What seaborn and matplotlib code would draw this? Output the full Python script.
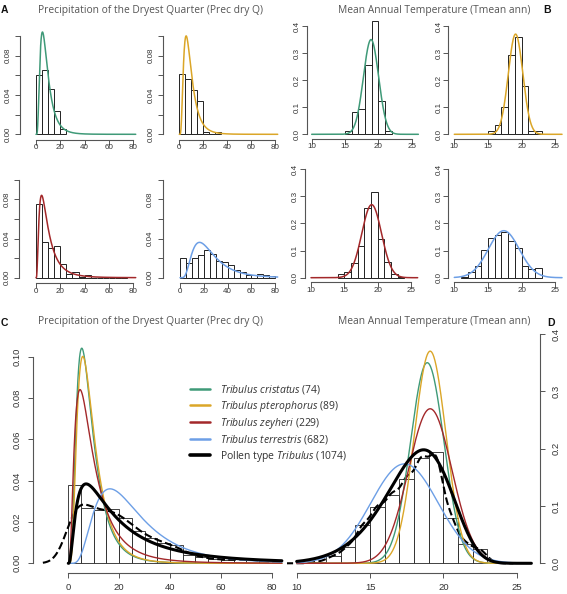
import numpy as np
import matplotlib
matplotlib.use("Agg")
import matplotlib.pyplot as plt
import seaborn as sns

# ---------------- values ----------------
species_labels = [r"$\mathit{Tribulus\ cristatus}$ (74)",
                  r"$\mathit{Tribulus\ pterophorus}$ (89)",
                  r"$\mathit{Tribulus\ zeyheri}$ (229)",
                  r"$\mathit{Tribulus\ terrestris}$ (682)"]
pollen_label = r"Pollen type $\mathit{Tribulus}$ (1074)"
species_colors = ["#3f9a78", "#dba628", "#a3282a", "#6d9fe6"]

# precipitation histograms (density), bins of 5 starting at 0
prec_hist_cristatus = [0.060, 0.065, 0.046, 0.024, 0.005]
prec_hist_pterophorus = [0.0614, 0.0563, 0.0451, 0.0339, 0.0024, 0.0, 0.0024]
prec_hist_zeyheri = [0.0750, 0.0360, 0.0300, 0.0323, 0.0138, 0.0035, 0.0060,
                     0.0009, 0.0026, 0.0, 0.0, 0.0, 0.0, 0.0, 0.0009]
prec_hist_terrestris = [0.0197, 0.0146, 0.0197, 0.0231, 0.0282, 0.0238, 0.0170, 0.0163,
                        0.0129, 0.0078, 0.0054, 0.0027, 0.0027, 0.0034, 0.0027, 0.0017]
prec_hist_pollen = [0.0380, 0.0267, 0.0257, 0.0262, 0.0218, 0.0157, 0.0123, 0.0100,
                    0.0087, 0.0040, 0.0029, 0.0019, 0.0016, 0.0019, 0.0019, 0.0010]

# temperature histograms (density), bins of 1 starting at temp_start
temp_start = [15, 15, 14, 11]
temp_hist_cristatus = [0.0135, 0.0811, 0.0946, 0.2568, 0.4189, 0.1216, 0.0135]
temp_hist_pterophorus = [0.0112, 0.0337, 0.1011, 0.2921, 0.3596, 0.1798, 0.0112, 0.0112]
temp_hist_zeyheri = [0.0123, 0.0209, 0.0529, 0.1180, 0.2560, 0.3175, 0.1415, 0.0566, 0.0123, 0.0040]
temp_hist_terrestris = [0.0037, 0.0197, 0.0443, 0.1020, 0.1450, 0.1560, 0.1700, 0.1366,
                        0.1095, 0.0431, 0.0320, 0.0345]
pollen_temp_start = 11
temp_hist_pollen = [0.0025, 0.0125, 0.0280, 0.0668, 0.0988, 0.1190, 0.1465, 0.1830,
                    0.1947, 0.0785, 0.0337, 0.0255]

# fitted curves (parameters estimated from the drawn curves)
prec_logmean = [2.031, 2.086, 2.116, 3.125]
prec_logsd = [0.603, 0.588, 0.768, 0.573]
pollen_prec_logmean, pollen_prec_logsd = 2.843, 0.947
temp_mean = [18.9, 19.1, 19.1, 17.35]
temp_sd = [1.14, 1.078, 1.48, 2.30]
pollen_temp_shape, pollen_temp_scale, pollen_temp_peak = 9.0, 18.9, 0.198

prec_hists = [prec_hist_cristatus, prec_hist_pterophorus, prec_hist_zeyheri, prec_hist_terrestris]
temp_hists = [temp_hist_cristatus, temp_hist_pterophorus, temp_hist_zeyheri, temp_hist_terrestris]

# ---------------- helpers ----------------
sns.set_style("white")
plt.rcParams["font.family"] = ["Liberation Sans", "DejaVu Sans"]
plt.rcParams["mathtext.fontset"] = "custom"
plt.rcParams["mathtext.rm"] = "Open Sans"
plt.rcParams["mathtext.it"] = "Open Sans:italic"

W, H = 567, 594
fig = plt.figure(figsize=(W / 100, H / 100), dpi=100)
AX_COL = "#555555"
TXT_COL = "#333333"


def lognorm_pdf(x, mu, s):
    out = np.zeros_like(x)
    pos = x > 0
    out[pos] = np.exp(-(np.log(x[pos]) - mu) ** 2 / (2 * s * s)) / (x[pos] * s * np.sqrt(2 * np.pi))
    return out


def norm_pdf(x, m, s):
    return np.exp(-(x - m) ** 2 / (2 * s * s)) / (s * np.sqrt(2 * np.pi))


def place(rect, xmap, ymap):
    left, top, right, bottom = rect
    ax = fig.add_axes([left / W, 1 - bottom / H, (right - left) / W, (bottom - top) / H])
    ax.set_facecolor("none")
    (p0, v0), (p1, v1) = xmap
    fx = lambda p: v0 + (p - p0) * (v1 - v0) / (p1 - p0)
    (q0, w0), (q1, w1) = ymap
    fy = lambda q: w0 + (q - q0) * (w1 - w0) / (q1 - q0)
    ax._lims = ((fx(left), fx(right)), (fy(bottom), fy(top)))
    return ax


def hist(ax, start, width, heights, lw=0.7):
    n = len(heights)
    centers = start + width * (np.arange(n) + 0.5)
    sns.histplot(x=centers, weights=list(heights), binwidth=width,
                 binrange=(start, start + width * n), stat="count", ax=ax,
                 color="white", edgecolor="#222222", linewidth=lw, alpha=1)


def finish(ax, xticks, yticks, ylabels, fs, xpad, ypad, right=False):
    ax.set_xlim(*ax._lims[0])
    ax.set_ylim(*ax._lims[1])
    ax.set_xlabel("")
    ax.set_ylabel("")
    for side in ["top", "right", "left", "bottom"]:
        ax.spines[side].set_visible(False)
    yside = "right" if right else "left"
    ax.spines["bottom"].set_visible(True)
    ax.spines[yside].set_visible(True)
    ax.spines["bottom"].set_bounds(xticks[0], xticks[-1])
    ax.spines[yside].set_bounds(yticks[0], yticks[-1])
    for side in ["bottom", yside]:
        ax.spines[side].set_color(AX_COL)
        ax.spines[side].set_linewidth(0.8)
    ax.set_xticks(xticks)
    ax.set_xticklabels([str(t) for t in xticks])
    ax.set_yticks(yticks)
    ax.set_yticklabels(ylabels)
    if right:
        ax.yaxis.tick_right()
    ax.tick_params(axis="x", bottom=True, top=False)
    ax.tick_params(axis="y", left=not right, right=right,
                   labelleft=not right, labelright=right)
    ax.tick_params(axis="both", direction="out", length=3.3, width=0.7, color=AX_COL,
                   labelsize=fs, labelcolor=TXT_COL)
    ax.tick_params(axis="x", pad=xpad)
    ax.tick_params(axis="y", pad=ypad, labelrotation=90)
    for lab in ax.get_yticklabels():
        lab.set_va("center")


def ftext(x, y, s, **kw):
    fig.text(x / W, 1 - y / H, s, **kw)


# ---------------- top precipitation panels ----------------
prec_rects = [(20, 28.2, 140.2, 139.5), (163.3, 28.2, 282.1, 139.5),
              (19.3, 171.9, 140.2, 283.3), (162.7, 171.9, 282.0, 283.3)]
prec_xmaps = [((36, 0), (133.3, 80)), ((179.3, 0), (275.3, 80)),
              ((36, 0), (133.3, 80)), ((180, 0), (275.3, 80))]
prec_ymaps = [((134.3, 0), (55.7, 0.08)), ((134.3, 0), (55.7, 0.08)),
              ((277.7, 0), (199.3, 0.08)), ((277.7, 0), (199.3, 0.08))]
xg_prec = np.linspace(0, 82, 600)
for i in range(4):
    ax = place(prec_rects[i], prec_xmaps[i], prec_ymaps[i])
    hist(ax, 0, 5, prec_hists[i])
    sns.lineplot(x=xg_prec, y=lognorm_pdf(xg_prec, prec_logmean[i], prec_logsd[i]),
                 color=species_colors[i], lw=1.1, ax=ax)
    finish(ax, [0, 20, 40, 60, 80], [0, 0.02, 0.04, 0.06, 0.08, 0.10],
           ["0.00", "", "0.04", "", "0.08", ""], 5.8, 0.0, 2.8)

# ---------------- top temperature panels ----------------
temp_rects = [(306.7, 21.0, 422.6, 138.6), (448.3, 21.0, 566.0, 138.6),
              (305.0, 165.0, 422.0, 282.0), (448.3, 165.0, 566.0, 282.0)]
temp_xmaps = [((311.7, 10), (411.7, 25)), ((454.3, 10), (555.3, 25)),
              ((311.0, 10), (411.0, 25)), ((454.3, 10), (555.3, 25))]
temp_ymaps = [((134.3, 0), (26, 0.4)), ((134.3, 0), (26, 0.4)),
              ((277.7, 0), (169.3, 0.4)), ((277.7, 0), (169.3, 0.4))]
xg_temp = np.linspace(10, 26, 600)
for i in range(4):
    ax = place(temp_rects[i], temp_xmaps[i], temp_ymaps[i])
    hist(ax, temp_start[i], 1, temp_hists[i])
    sns.lineplot(x=xg_temp, y=norm_pdf(xg_temp, temp_mean[i], temp_sd[i]),
                 color=species_colors[i], lw=1.1, ax=ax)
    finish(ax, [10, 15, 20, 25], [0, 0.1, 0.2, 0.3, 0.4],
           ["0.0", "0.1", "0.2", "0.3", "0.4"], 5.8, 0.0, 1.0)

# ---------------- C: pooled precipitation ----------------
axc = place((33.3, 340.0, 287.0, 573.3), ((68.3, 0), (271.7, 80)), ((563.3, 0), (356.7, 0.10)))
hist(axc, 0, 5, prec_hist_pollen, lw=0.6)
centers_p = 2.5 + 5 * np.arange(len(prec_hist_pollen))
sns.kdeplot(x=centers_p, weights=prec_hist_pollen, bw_method=0.25, cut=4, clip=(-10, 84),
            color="black", linestyle="--", lw=1.5, ax=axc)
xg_c = np.linspace(0, 84, 800)
for i in range(4):
    sns.lineplot(x=xg_c, y=lognorm_pdf(xg_c, prec_logmean[i], prec_logsd[i]),
                 color=species_colors[i], lw=1.0, ax=axc, label=species_labels[i], legend=False)
sns.lineplot(x=xg_c, y=lognorm_pdf(xg_c, pollen_prec_logmean, pollen_prec_logsd),
             color="black", lw=2.2, ax=axc, label=pollen_label, legend=False)
finish(axc, [0, 20, 40, 60, 80], [0, 0.02, 0.04, 0.06, 0.08, 0.10],
       ["0.00", "0.02", "0.04", "0.06", "0.08", "0.10"], 6.8, 4.0, 5.0)

handles, labels = axc.get_legend_handles_labels()
leg = axc.legend(handles, labels, loc="upper left", bbox_to_anchor=(190 / W, 1 - 383.5 / H),
                 bbox_transform=fig.transFigure, frameon=False, borderpad=0, borderaxespad=0,
                 handlelength=1.95, handletextpad=0.95, labelspacing=0.22,
                 prop={"family": "Open Sans", "size": 7.5})
for t in leg.get_texts():
    t.set_color(TXT_COL)
for j, ln in enumerate(leg.get_lines()):
    ln.set_linewidth(2.6 if j == 4 else 1.8)

# ---------------- D: pooled temperature ----------------
axd = place((287.3, 324.0, 540.0, 573.3), ((296.7, 10), (516.7, 25)), ((563.3, 0), (334.0, 0.4)))
hist(axd, pollen_temp_start, 1, temp_hist_pollen, lw=0.6)
centers_t = pollen_temp_start + 0.5 + np.arange(len(temp_hist_pollen))
sns.kdeplot(x=centers_t, weights=temp_hist_pollen, bw_method=0.21, cut=3,
            color="black", linestyle="--", lw=1.5, ax=axd)
for i in range(4):
    sns.lineplot(x=xg_temp, y=norm_pdf(xg_temp, temp_mean[i], temp_sd[i]),
                 color=species_colors[i], lw=1.0, ax=axd)
wb = (xg_temp / pollen_temp_scale) ** (pollen_temp_shape - 1) * np.exp(-(xg_temp / pollen_temp_scale) ** pollen_temp_shape)
sns.lineplot(x=xg_temp, y=wb / wb.max() * pollen_temp_peak, color="black", lw=2.2, ax=axd)
finish(axd, [10, 15, 20, 25], [0, 0.1, 0.2, 0.3, 0.4],
       ["0.0", "0.1", "0.2", "0.3", "0.4"], 6.8, 4.0, 5.0, right=True)

# ---------------- titles and panel letters ----------------
title_kw = dict(family="Open Sans", size=7.4, color="#555555", ha="center", va="center")
letter_kw = dict(family="Liberation Sans", weight="bold", size=7.5, color="#111111", ha="center", va="center")
prec_title = "Precipitation of the Dryest Quarter (Prec dry Q)"
temp_title = "Mean Annual Temperature (Tmean ann)"
ftext(150.5, 10.7, prec_title, **title_kw)
ftext(433.7, 10.7, temp_title, **title_kw)
ftext(150.5, 321.7, prec_title, **title_kw)
ftext(433.7, 321.7, temp_title, **title_kw)
ftext(4, 10.2, "A", **letter_kw)
ftext(547.5, 10.2, "B", **letter_kw)
ftext(4, 322.5, "C", **letter_kw)
ftext(550.5, 322.5, "D", **letter_kw)

fig.savefig("out.png", dpi=100)
